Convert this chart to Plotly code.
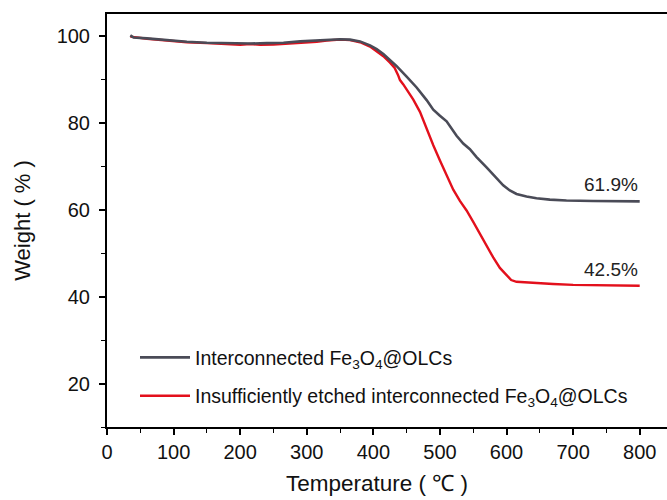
import plotly.graph_objects as go

# Thermogravimetric curves (temperature in degC, weight in %)
gray_t = [35, 40, 60, 90, 120, 150, 180, 215, 240, 265, 290, 315, 335, 350, 365,
          380, 395, 405, 415, 425, 435, 450, 465, 480, 490, 500, 510, 525, 535,
          545, 555, 570, 585, 595, 605, 615, 630, 645, 665, 690, 730, 770, 800]
gray_w = [100.1, 99.6, 99.4, 99.0, 98.6, 98.4, 98.3, 98.2, 98.3, 98.4, 98.7, 98.9,
          99.1, 99.2, 99.1, 98.7, 97.8, 96.9, 95.8, 94.5, 93.0, 90.6, 88.1, 85.2,
          83.0, 81.6, 80.3, 77.0, 75.2, 73.9, 72.1, 69.7, 67.2, 65.6, 64.4, 63.6,
          63.0, 62.6, 62.3, 62.1, 62.0, 61.9, 61.9]

red_t = [35, 60, 90, 120, 150, 180, 200, 215, 230, 250, 265, 285, 300, 315, 330,
         350, 365, 380, 395, 405, 415, 425, 432, 437, 440, 445, 452, 460, 470, 480,
         490, 500, 510, 520, 530, 540, 550, 560, 570, 580, 590, 600, 607, 615, 640,
         670, 700, 750, 800]
red_w = [99.8, 99.3, 98.9, 98.5, 98.3, 98.1, 97.9, 98.1, 97.9, 98.0, 98.1, 98.3,
         98.5, 98.6, 98.9, 99.1, 99.0, 98.5, 97.5, 96.5, 95.3, 93.8, 92.6, 91.0,
         89.8, 88.8, 87.3, 85.3, 82.5, 78.5, 74.8, 71.3, 67.8, 64.6, 62.0, 59.8,
         57.2, 54.4, 51.7, 49.0, 46.6, 44.8, 43.8, 43.4, 43.1, 42.9, 42.7, 42.6, 42.5]

gray_name = "Interconnected Fe<sub>3</sub>O<sub>4</sub>@OLCs"
red_name = "Insufficiently etched interconnected Fe<sub>3</sub>O<sub>4</sub>@OLCs"

x_ticks = list(range(0, 801, 100))
y_ticks = [20, 40, 60, 80, 100]

GRAY = "#4a4b57"
RED = "#e3101c"
FONT = "Liberation Sans, Arial, sans-serif"

fig = go.Figure()
fig.add_trace(go.Scatter(x=red_t, y=red_w, mode="lines", name=red_name,
                         line=dict(color=RED, width=2.4),
                         legendgroup="b", legendrank=2))
fig.add_trace(go.Scatter(x=gray_t, y=gray_w, mode="lines", name=gray_name,
                         line=dict(color=GRAY, width=2.6),
                         legendgroup="a", legendrank=1))

# residual weight labels at the end of each curve
for t, w in [(gray_t[-1], gray_w[-1]), (red_t[-1], red_w[-1])]:
    fig.add_annotation(x=t, y=w, text=f"{w}%", showarrow=False,
                       xanchor="right", yanchor="bottom", yshift=4,
                       font=dict(size=19, color="#222", family=FONT))

# x-axis title placed as an annotation below the tick labels
fig.add_annotation(x=0.482, y=484, xref="paper", yref="paper", yanchor="middle",
                   text="Temperature ( ℃ )", showarrow=False,
                   font=dict(size=22.5, color="#111", family=FONT))

axis_common = dict(
    showgrid=False, zeroline=False, showline=True, linecolor="black",
    linewidth=2, ticks="outside", tickcolor="black", tickwidth=1.6,
    ticklen=6, tickfont=dict(size=20, color="#111", family=FONT),
)

fig.update_xaxes(
    range=[0, 841], tickvals=x_ticks, mirror=True,
    minor=dict(dtick=50, tick0=0, ticks="outside", ticklen=4,
               tickcolor="black", tickwidth=1.4),
    **axis_common,
)
fig.update_yaxes(
    range=[10, 105], tickvals=y_ticks, mirror=False,
    minor=dict(dtick=10, tick0=0, ticks="outside", ticklen=4,
               tickcolor="black", tickwidth=1.4),
    ticklabelstandoff=5,
    title=dict(text="Weight ( % )", font=dict(size=22, color="#111", family=FONT),
               standoff=20),
    **axis_common,
)

fig.update_layout(
    width=667, height=500, autosize=False,
    margin=dict(l=107, r=0, t=14, b=73),
    paper_bgcolor="white", plot_bgcolor="white",
    font=dict(family=FONT, color="#111"),
    legend=dict(x=0.05, y=0.215, xanchor="left", yanchor="top",
                bgcolor="rgba(0,0,0,0)", borderwidth=0,
                font=dict(size=19.5, color="#111", family=FONT),
                traceorder="grouped", tracegroupgap=10, itemwidth=50),
)

# convert the title's pixel row into paper units of the plot area
plot_h = 500 - 14 - 73
fig.layout.annotations[-1].y = (500 - 73 - 484) / plot_h

fig.write_html("out.html")
